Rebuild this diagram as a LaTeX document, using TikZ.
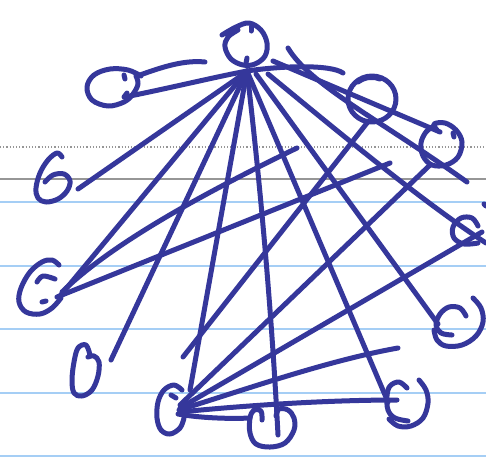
\documentclass[tikz,border=0pt]{standalone}
\definecolor{ink}{RGB}{53,55,155}
\definecolor{ruleblue}{RGB}{165,206,245}
\definecolor{rulegray}{RGB}{150,150,150}
\begin{document}
\begin{tikzpicture}[x=1pt,y=-1pt,
  ink/.style={draw=ink,line width=5pt,line cap=round,line join=round},
  glyph/.style={ink},
  conn/.style={ink},
  blueline/.style={draw=ruleblue,line width=2pt},
  grayline/.style={draw=rulegray,line width=1.8pt},
  dotline/.style={draw=rulegray,line width=1.2pt,dotted}]
\useasboundingbox (0,0) rectangle (486,459);
\fill[white] (0,0) rectangle (486,459);
% ruled paper
\draw[dotline] (0,147) -- (486,147);
\draw[grayline] (0,179) -- (486,179);
\foreach \yy in {202,266,329,393,456} \draw[blueline] (0,\yy) -- (486,\yy);

% ---- hand-drawn glyphs (nodes) ----
% A (top)
\draw[glyph] plot[smooth,tension=0.6] coordinates {(222,35) (236,27) (249,23) (261,30) (267,43) (265,56) (255,64) (243,65) (231,59) (225,47) (228,37) (238,30)};
\draw[glyph] (251,27) -- (251,31);
\draw[glyph] (246,63) -- (247,58);
% B (left top)
\draw[glyph] plot[smooth,tension=0.6] coordinates {(141,76) (128,70) (110,69) (94,75) (87,87) (92,100) (108,106) (124,102) (133,94) (138,84) (136,76)};
\draw[glyph] (124,75) -- (125,79);
\draw[glyph] (124,97) -- (127,93);
% C
\draw[glyph] (372,99) ellipse [x radius=24, y radius=23];
\draw[glyph] (358,82) .. controls (365,77) and (373,76) .. (380,79);
% D
\draw[glyph] plot[smooth,tension=0.6] coordinates {(437,130) (434,124) (445,123) (456,130) (462,142) (458,157) (446,165) (432,165) (423,156) (421,143) (426,132) (434,126)};
\draw[glyph] (453,133) -- (454,137);
% E "6"
\draw[glyph] plot[smooth,tension=0.6] coordinates {(62,157) (57,153) (48,160) (40,173) (36,188) (38,198) (46,202) (58,199) (67,191) (70,181) (64,174) (53,175) (45,182)};
% F
\draw[glyph] plot[smooth,tension=0.6] coordinates {(478,226) (472,218) (461,218) (453,227) (454,238) (464,244) (478,243)};
% G
\draw[glyph] plot[smooth,tension=0.6] coordinates {(59,265) (52,260) (42,262) (30,272) (21,288) (19,302) (26,312) (40,314) (52,308) (61,298)};
\draw[glyph] plot[smooth,tension=0.6] coordinates {(37,282) (43,276) (55,279)};
\draw[glyph] (42,302) -- (46,301);
% H "0"
\draw[glyph] plot[smooth,tension=0.6] coordinates {(90,355) (86,345) (78,348) (74,362) (72,380) (74,393) (82,396) (92,390) (98,376) (99,362) (94,356) (88,357)};
% I
\draw[glyph] plot[smooth,tension=0.6] coordinates {(466,316) (460,308) (449,307) (440,314) (436,325) (441,333) (452,335)};
\draw[glyph] plot[smooth,tension=0.6] coordinates {(473,298) (481,308) (483,322) (476,336) (462,345) (446,346) (437,340) (434,330)};
% J (bottom hub)
\draw[glyph] plot[smooth,tension=0.6] coordinates {(182,390) (174,385) (164,390) (158,402) (157,418) (161,430) (170,434) (180,428) (184,418)};
\draw[glyph] (171,395) -- (176,398);
% K
\draw[glyph] plot[smooth,tension=0.6] coordinates {(262,420) (261,411) (254,410) (250,418) (250,433) (256,444) (270,447) (285,443) (294,430) (294,418) (288,410) (279,409) (276,416)};
% L
\draw[glyph] plot[smooth,tension=0.6] coordinates {(407,388) (399,382) (390,386) (387,396) (388,410) (395,418) (408,421)};
\draw[glyph] plot[smooth,tension=0.6] coordinates {(419,380) (426,390) (428,403) (423,418) (411,426) (398,426) (389,419)};
% edge mark
\draw[glyph] (484,204) -- (486,206);

% ---- named end points ----
\coordinate (Ahub) at (247,71);
\coordinate (Aleft) at (245,73);
\coordinate (Aright) at (256,74);
\coordinate (Afar) at (268,74);
\coordinate (Atick) at (273,61);
\coordinate (Ahook) at (288,48);
\coordinate (Bend) at (125,97);
\coordinate (Btop) at (140,75);
\coordinate (Bfree) at (205,62);
\coordinate (Cend) at (343,73);
\coordinate (Cb) at (367,123);
\coordinate (Dend) at (440,132);
\coordinate (Db) at (430,165);
\coordinate (arcE) at (467,182);
\coordinate (Eend) at (78,189);
\coordinate (Fb) at (482,232);
\coordinate (Fout) at (486,243);
\coordinate (Gend) at (60,296);
\coordinate (G1) at (62,292);
\coordinate (G2) at (57,297);
\coordinate (X1) at (297,148);
\coordinate (X2) at (390,163);
\coordinate (Hend) at (111,360);
\coordinate (Iin) at (438,324);
\coordinate (Jtop) at (190,390);
\coordinate (Jc) at (183,357);
\coordinate (Jd) at (180,405);
\coordinate (Jf) at (180,408);
\coordinate (Jhub) at (179,410);
\coordinate (Jl) at (180,412);
\coordinate (Jk) at (178,414);
\coordinate (Kin) at (278,435);
\coordinate (Kl) at (250,418);
\coordinate (Lin) at (388,402);
\coordinate (Ll) at (397,400);
\coordinate (free1) at (398,348);

% ---- connectors ----
\draw[conn] (Bend) .. controls (170,88) and (215,77) .. (Ahub) .. controls (280,66) and (330,64) .. (Cend);
\draw[conn] (Btop) .. controls (165,66) and (185,60) .. (Bfree);
\draw[conn] (Aleft) -- (Eend);
\draw[conn] (Ahub) -- (Gend);
\draw[conn] (X1) .. controls (200,195) and (110,245) .. (G1);
\draw[conn] (X2) -- (G2);
\draw[conn] (Ahub) -- (Hend);
\draw[conn] (Ahub) -- (Jtop);
\draw[conn] (Ahub) .. controls (262,200) and (272,320) .. (Kin);
\draw[conn] (Ahub) -- (Lin);
\draw[conn] (Aright) -- (Iin);
\draw[conn] (Afar) .. controls (330,125) and (420,200) .. (Fout);
\draw[conn] (Atick) -- (Dend);
\draw[conn] (Ahook) .. controls (310,85) and (380,120) .. (arcE);
\draw[conn] (Cb) -- (Jc);
\draw[conn] (Db) -- (Jd);
\draw[conn] (Fb) -- (Jf);
\draw[conn] (Jhub) .. controls (250,388) and (330,360) .. (free1);
\draw[conn] (Jl) .. controls (250,405) and (330,400) .. (Ll);
\draw[conn] (Jk) .. controls (200,418) and (230,419) .. (Kl);
\end{tikzpicture}
\end{document}
